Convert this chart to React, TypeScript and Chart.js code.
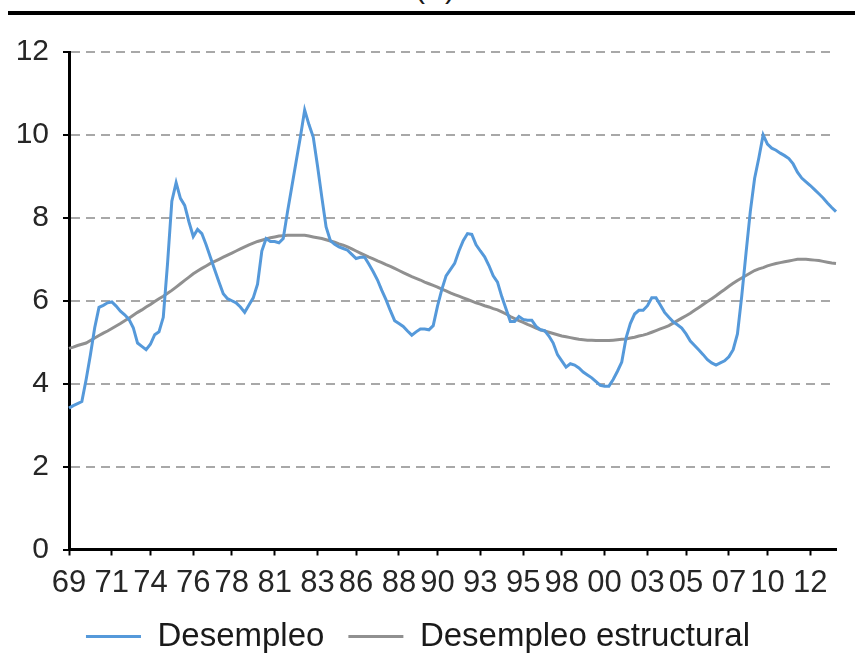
import React, { useEffect, useRef } from 'react';
import { Chart, registerables } from 'chart.js';

Chart.register(...registerables);

const startYear = 1969;

const desempleo: number[] = [
  3.41, 3.47, 3.52, 3.57, 4.1, 4.7, 5.35, 5.84, 5.89, 5.95,
  5.97, 5.87, 5.75, 5.66, 5.55, 5.35, 4.98, 4.9, 4.82, 4.95,
  5.18, 5.25, 5.6, 6.9, 8.4, 8.85, 8.47, 8.3, 7.9, 7.55,
  7.72, 7.62, 7.35, 7.05, 6.75, 6.45, 6.17, 6.05, 6.0, 5.95,
  5.85, 5.72, 5.9, 6.07, 6.4, 7.2, 7.5, 7.43, 7.43, 7.4,
  7.5, 8.15, 8.75, 9.35, 9.95, 10.6, 10.25, 9.95, 9.25, 8.5,
  7.78, 7.45, 7.36, 7.3, 7.26, 7.22, 7.12, 7.02, 7.05, 7.05,
  6.88, 6.7, 6.5, 6.25, 6.02, 5.76, 5.52, 5.45, 5.38, 5.27,
  5.17, 5.25, 5.32, 5.32, 5.3, 5.4, 5.87, 6.27, 6.6, 6.75,
  6.9, 7.2, 7.45, 7.62, 7.6, 7.35, 7.2, 7.06, 6.85, 6.6,
  6.45, 6.1, 5.8, 5.5, 5.5, 5.62, 5.55, 5.53, 5.53, 5.38,
  5.3, 5.28, 5.15, 4.98, 4.7, 4.55, 4.4, 4.48, 4.45, 4.38,
  4.28, 4.21, 4.14, 4.05, 3.96, 3.94, 3.94, 4.1, 4.3, 4.52,
  5.1, 5.45, 5.68, 5.77, 5.77, 5.88, 6.07, 6.07, 5.9, 5.72,
  5.6, 5.49, 5.42, 5.34, 5.2, 5.03, 4.92, 4.81, 4.7, 4.58,
  4.5, 4.45, 4.5, 4.55, 4.65, 4.82, 5.2, 6.11, 7.15, 8.15,
  8.95, 9.45, 10.0, 9.78, 9.68, 9.63, 9.56, 9.5, 9.43, 9.3,
  9.1, 8.96, 8.87, 8.78, 8.68, 8.58, 8.48, 8.36, 8.25, 8.15,
];

const desempleoEstructural: number[] = [
  4.85, 4.88, 4.92, 4.95, 4.98, 5.04, 5.1, 5.16, 5.22, 5.27,
  5.33, 5.39, 5.45, 5.52, 5.58, 5.65, 5.72, 5.78, 5.85, 5.91,
  5.98, 6.05, 6.11, 6.18, 6.25, 6.33, 6.41, 6.49, 6.57, 6.65,
  6.72, 6.78, 6.84, 6.9, 6.95, 7.0, 7.05, 7.1, 7.15, 7.2,
  7.25, 7.3, 7.35, 7.39, 7.43, 7.46, 7.49, 7.52, 7.54, 7.56,
  7.57, 7.58, 7.58, 7.58, 7.58, 7.58, 7.56, 7.54, 7.52, 7.5,
  7.47, 7.44, 7.41, 7.37, 7.34, 7.3, 7.25, 7.2, 7.15, 7.1,
  7.05, 7.01, 6.96, 6.92, 6.87, 6.83, 6.78, 6.73, 6.68, 6.63,
  6.58, 6.54, 6.5, 6.45, 6.41, 6.37, 6.33, 6.28, 6.24, 6.19,
  6.15, 6.11, 6.07, 6.03, 5.99, 5.95, 5.92, 5.88, 5.85, 5.81,
  5.78, 5.73, 5.68, 5.62, 5.57, 5.52, 5.48, 5.43, 5.39, 5.34,
  5.3, 5.27, 5.24, 5.21, 5.18, 5.15, 5.13, 5.11, 5.09, 5.07,
  5.06, 5.05, 5.05, 5.04, 5.04, 5.04, 5.04, 5.05, 5.06, 5.07,
  5.08, 5.1, 5.12, 5.15, 5.17, 5.2, 5.24, 5.28, 5.32, 5.36,
  5.4, 5.46, 5.52, 5.58, 5.64, 5.7, 5.77, 5.84, 5.91, 5.98,
  6.05, 6.12, 6.2, 6.27, 6.35, 6.42, 6.49, 6.55, 6.61, 6.67,
  6.73, 6.77, 6.8, 6.84, 6.87, 6.9, 6.92, 6.94, 6.96, 6.98,
  7.0, 7.0, 7.0, 6.99, 6.98, 6.97, 6.95, 6.93, 6.91, 6.9,
];

// quarterly categories
const categories: string[] = desempleo.map(
  (_, i) => `${startYear + Math.floor(i / 4)}T${(i % 4) + 1}`
);

// x-axis tick labels and the category each one is attached to
const tickLabels: string[] = [
  '69', '71', '74', '76', '78', '81', '83', '86', '88', '90',
  '93', '95', '98', '00', '03', '05', '07', '10', '12',
];
const tickCategoryIndex: number[] = [
  0, 10, 19, 29, 38, 48, 58, 67, 77, 86, 96, 106, 115, 125, 135, 144, 154, 163, 173,
];

const yTicks: number[] = [0, 2, 4, 6, 8, 10, 12];

const FONT = "'Liberation Sans', Arial, Helvetica, sans-serif";

export default function App() {
  const canvasRef = useRef<HTMLCanvasElement | null>(null);

  useEffect(() => {
    if (!canvasRef.current) return;
    const chart = new Chart(canvasRef.current, {
      type: 'line',
      data: {
        labels: categories,
        datasets: [
          {
            label: 'Desempleo',
            data: desempleo,
            borderColor: '#5599da',
            backgroundColor: '#5599da',
            borderWidth: 3,
            pointRadius: 0,
            tension: 0,
          },
          {
            label: 'Desempleo estructural',
            data: desempleoEstructural,
            borderColor: '#909090',
            backgroundColor: '#909090',
            borderWidth: 3,
            pointRadius: 0,
            tension: 0,
          },
        ],
      },
      options: {
        responsive: false,
        animation: false,
        layout: { padding: { left: 0, right: 19, top: 28, bottom: 0 } },
        plugins: {
          tooltip: { enabled: false },
          title: { display: false },
          legend: {
            display: true,
            position: 'bottom',
            labels: {
              usePointStyle: true,
              pointStyle: 'line',
              pointStyleWidth: 55,
              padding: 24,
              color: '#1a1a1a',
              font: { family: FONT, size: 33 },
            },
          },
        },
        scales: {
          x: {
            type: 'category',
            offset: false,
            afterBuildTicks: (scale: any) => {
              scale.ticks = tickCategoryIndex.map((v) => ({ value: v }));
            },
            afterFit: (scale: any) => {
              scale.height = 46.5;
            },
            ticks: {
              autoSkip: false,
              maxRotation: 0,
              minRotation: 0,
              padding: 9,
              color: '#262626',
              font: { family: FONT, size: 31 },
              callback: (_v: any, i: number) => tickLabels[i],
            },
            grid: {
              display: true,
              drawOnChartArea: false,
              drawTicks: true,
              tickLength: 6,
              tickColor: '#000',
              tickWidth: 2,
            },
            border: { display: true, color: '#000', width: 3 },
          },
          y: {
            type: 'linear',
            min: 0,
            max: 12,
            afterBuildTicks: (scale: any) => {
              scale.ticks = yTicks.map((v) => ({ value: v }));
            },
            afterFit: (scale: any) => {
              scale.width = 69;
            },
            ticks: {
              padding: 14,
              color: '#262626',
              font: { family: FONT, size: 30 },
              callback: (v: any) => String(v),
            },
            grid: {
              display: true,
              drawOnChartArea: true,
              drawTicks: true,
              tickLength: 6,
              color: (ctx: any) => (ctx.tick && ctx.tick.value === 0 ? 'rgba(0,0,0,0)' : '#a8a8a8'),
              lineWidth: 2,
              tickColor: '#000',
              tickWidth: 2,
              tickBorderDash: [],
            },
            border: { display: true, color: '#000', width: 3, dash: [9, 6] },
          },
        },
      },
    });
    return () => chart.destroy();
  }, []);

  return (
    <div
      style={{
        position: 'fixed',
        left: 0,
        top: 0,
        width: 855,
        height: 655,
        overflow: 'hidden',
        background: '#fff',
      }}
    >
      <div
        style={{
          position: 'absolute',
          left: 395,
          top: -29,
          width: 80,
          textAlign: 'center',
          fontFamily: FONT,
          fontSize: 30,
          color: '#1a1a1a',
        }}
      >
        (A)
      </div>
      <div
        style={{
          position: 'absolute',
          left: 8,
          top: 11,
          width: 847,
          height: 4,
          background: '#000',
        }}
      />
      <canvas
        ref={canvasRef}
        width={855}
        height={643}
        style={{ position: 'absolute', left: 0, top: 20, width: 855, height: 643 }}
      />
    </div>
  );
}
